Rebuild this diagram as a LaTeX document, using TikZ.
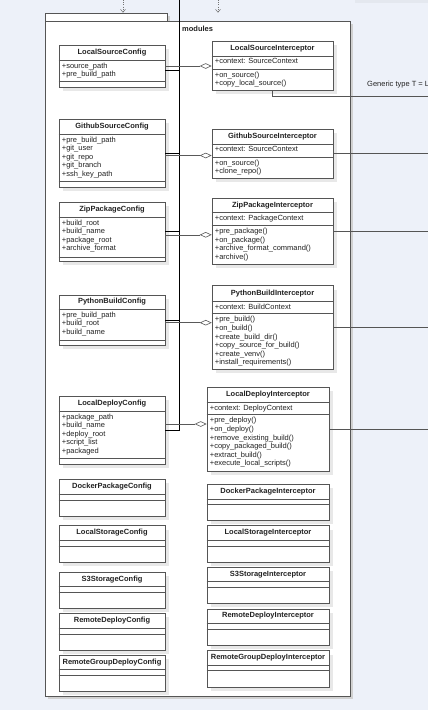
\documentclass[tikz,border=0pt]{standalone}
\usepackage{fontspec}
\setmainfont{Liberation Sans}
\usetikzlibrary{fit,shadows,arrows.meta}

\definecolor{pagebg}{HTML}{EDF1F9}
\definecolor{stripbg}{HTML}{E4E8EF}
\definecolor{linegrey}{HTML}{555555}
\definecolor{textgrey}{HTML}{222222}

% class box: id, (x1,y1), (x2,y2), y of header line, y of attribute line, title
\newcommand{\umlclass}[6]{%
  \node[classbox, fit={#2 #3}] (#1) {};
  \draw[classline] (#1.west |- 0,#4) -- (#1.east |- 0,#4);
  \draw[classline] (#1.west |- 0,#5) -- (#1.east |- 0,#5);
  \path (#1.north) -- (#1.north |- 0,#4) node[midway, classtitle] {#6};
  \coordinate (#1-a) at (#1.west |- 0,#4);
  \coordinate (#1-m) at (#1.west |- 0,#5);
}

\begin{document}
\begin{tikzpicture}[x=1pt, y=-1pt,
    classbox/.style={draw=linegrey, fill=white, line width=0.6pt, inner sep=0pt,
      drop shadow={shadow xshift=4pt, shadow yshift=-4pt, fill=black!9, opacity=1}},
    classline/.style={draw=linegrey, line width=0.6pt},
    classtitle/.style={font=\fontsize{7.5}{9}\selectfont\bfseries, text=textgrey},
    members/.style={anchor=north west, inner sep=0pt, xshift=3pt, yshift=-2.5pt,
      align=left, font=\fontsize{7.5}{8.6}\selectfont, text=textgrey},
    pkgbox/.style={draw=linegrey, fill=white, line width=0.7pt, inner sep=0pt,
      drop shadow={shadow xshift=3pt, shadow yshift=-3pt, fill=black!18, opacity=1}},
    bus/.style={draw=black, line width=0.8pt},
    aggr/.style={draw=black!65, line width=0.6pt, -{Diamond[open, length=12pt, width=5.5pt]}},
    link/.style={draw=linegrey, line width=0.6pt},
    dep/.style={draw=black!55, line width=0.5pt, dash pattern=on 1pt off 1.2pt,
      -{Straight Barb[length=3pt, width=5pt]}},
    note/.style={font=\fontsize{7.5}{9}\selectfont, text=textgrey, inner sep=0pt}]

  % page
  \fill[pagebg] (0,0) rectangle (428,710);
  \useasboundingbox (0,0) rectangle (428,710);
  \fill[stripbg] (355,0) rectangle (428,3.3);

  % modules package
  \node[pkgbox, fit={(45,13) (167,21)}] (tab) {};
  \node[pkgbox, fit={(45,21) (350,696)}] (pkg) {};
  \node[anchor=west, inner sep=0pt, font=\fontsize{7.5}{9}\selectfont\bfseries, text=textgrey] (pkglabel) at (182,29) {modules};

  % dependencies from above
  \coordinate (dep1) at (123,0);
  \coordinate (dep2) at (218,0);
  \draw[dep] (dep1) -- (dep1 |- tab.north);
  \draw[dep] (dep2) -- (dep2 |- tab.north);

  % Config classes
  \umlclass{lsc}{(59,45)}{(165,87)}{60}{81}{LocalSourceConfig}
  \node[members] at (lsc-a) {+source\_path\\+pre\_build\_path};
  \umlclass{gsc}{(59,119)}{(165,187)}{134}{181}{GithubSourceConfig}
  \node[members] at (gsc-a) {+pre\_build\_path\\+git\_user\\+git\_repo\\+git\_branch\\+ssh\_key\_path};
  \umlclass{zpc}{(59,202)}{(165,261)}{217}{257}{ZipPackageConfig}
  \node[members] at (zpc-a) {+build\_root\\+build\_name\\+package\_root\\+archive\_format};
  \umlclass{pbc}{(59,295)}{(165,345)}{309}{340.7}{PythonBuildConfig}
  \node[members] at (pbc-a) {+pre\_build\_path\\+build\_root\\+build\_name};
  \umlclass{ldc}{(59,396)}{(165,464)}{411}{458.7}{LocalDeployConfig}
  \node[members] at (ldc-a) {+package\_path\\+build\_name\\+deploy\_root\\+script\_list\\+packaged};
  \umlclass{dpc}{(59,479.3)}{(165,516.3)}{494.7}{500}{DockerPackageConfig}
  \umlclass{lstc}{(59,525.7)}{(165,562.3)}{540.7}{546}{LocalStorageConfig}
  \umlclass{s3c}{(59,572)}{(165,608.3)}{586.7}{592.3}{S3StorageConfig}
  \umlclass{rdc}{(59,613.3)}{(165,650)}{628.3}{634}{RemoteDeployConfig}
  \umlclass{rgc}{(59,655.3)}{(165,691.3)}{669.7}{675.3}{RemoteGroupDeployConfig}

  % Interceptor classes
  \umlclass{lsi}{(212,41)}{(333,90)}{56}{69}{LocalSourceInterceptor}
  \node[members] at (lsi-a) {+context: SourceContext};
  \node[members] at (lsi-m) {+on\_source()\\+copy\_local\_source()};
  \umlclass{gsi}{(212,129)}{(333,178)}{144}{157}{GithubSourceInterceptor}
  \node[members] at (gsi-a) {+context: SourceContext};
  \node[members] at (gsi-m) {+on\_source()\\+clone\_repo()};
  \umlclass{zpi}{(212,198)}{(333,264)}{212.7}{225.3}{ZipPackageInterceptor}
  \node[members] at (zpi-a) {+context: PackageContext};
  \node[members] at (zpi-m) {+pre\_package()\\+on\_package()\\+archive\_format\_command()\\+archive()};
  \umlclass{pbi}{(212,285.7)}{(333,369.3)}{301}{313.7}{PythonBuildInterceptor}
  \node[members] at (pbi-a) {+context: BuildContext};
  \node[members] at (pbi-m) {+pre\_build()\\+on\_build()\\+create\_build\_dir()\\+copy\_source\_for\_build()\\+create\_venv()\\+install\_requirements()};
  \umlclass{ldi}{(207,387.3)}{(329,471)}{402}{414.7}{LocalDeployInterceptor}
  \node[members] at (ldi-a) {+context: DeployContext};
  \node[members] at (ldi-m) {+pre\_deploy()\\+on\_deploy()\\+remove\_existing\_build()\\+copy\_packaged\_build()\\+extract\_build()\\+execute\_local\_scripts()};
  \umlclass{dpi}{(207,484.3)}{(329,520.3)}{499.3}{504.3}{DockerPackageInterceptor}
  \umlclass{lsti}{(207,525.7)}{(329,562.3)}{540.7}{546}{LocalStorageInterceptor}
  \umlclass{s3i}{(207,567.3)}{(329,603.3)}{581.7}{587.7}{S3StorageInterceptor}
  \umlclass{rdi}{(207,609)}{(329,645.3)}{623.3}{629.3}{RemoteDeployInterceptor}
  \umlclass{rgi}{(207,650.7)}{(329,687)}{665}{670.7}{RemoteGroupDeployInterceptor}

  % bus from above into the configs
  \coordinate (bustop) at (179,0);
  \draw[bus] (bustop) |- (ldc.east);
  \draw[bus, transform canvas={yshift=-4.7pt}] (lsc.east) -- (lsc.east -| bustop);
  \draw[bus] (gsc.east) -- (gsc.east -| bustop);
  \draw[bus] (zpc.east) -- (zpc.east -| bustop);
  \draw[bus] (pbc.east) -- (pbc.east -| bustop);

  % aggregations
  \draw[aggr] (lsc.east) -- (lsc.east -| lsi.west);
  \draw[aggr, transform canvas={yshift=-2.5pt}] (gsc.east) -- (gsc.east -| gsi.west);
  \draw[aggr, transform canvas={yshift=-3.3pt}] (zpc.east) -- (zpc.east -| zpi.west);
  \draw[aggr, transform canvas={yshift=-2.7pt}] (pbc.east) -- (pbc.east -| pbi.west);
  \draw[aggr, transform canvas={yshift=6pt}] (ldc.east) -- (ldc.east -| ldi.west);

  % links out to the right
  \coordinate (rim) at (428,96);
  \node[note, anchor=west] (generic) at (367,85) {Generic type T = L};
  \draw[link] (lsi.south) |- (rim);
  \draw[link] (gsi.east) -- (gsi.east -| rim);
  \draw[link] (zpi.east) -- (zpi.east -| rim);
  \draw[link] (pbi.east) -- (pbi.east -| rim);
  \draw[link] (ldi.east) -- (ldi.east -| rim);
\end{tikzpicture}
\end{document}
